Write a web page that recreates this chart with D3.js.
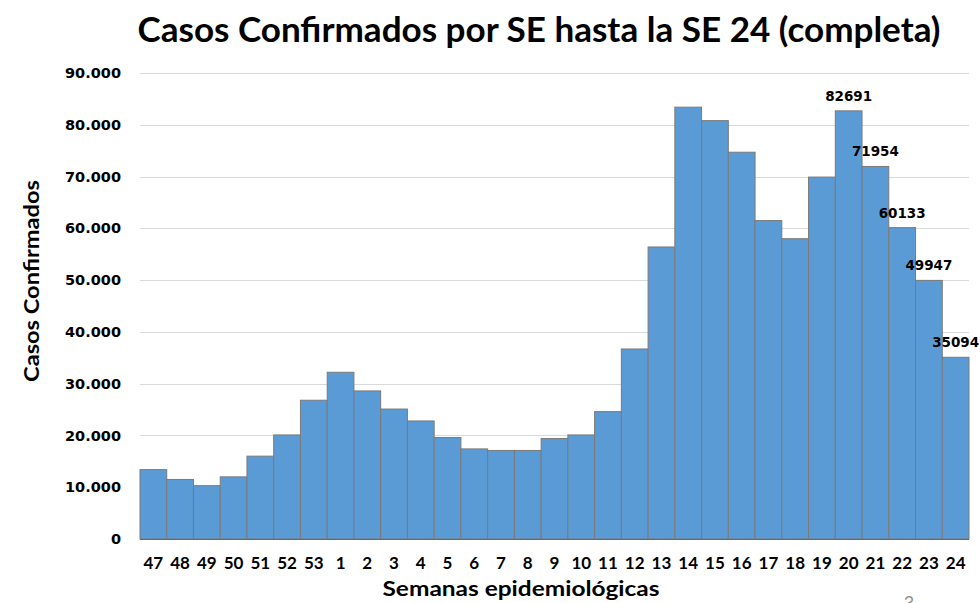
<!DOCTYPE html>
<html>
<head>
<meta charset="utf-8">
<script src="https://cdn.jsdelivr.net/npm/d3@7/dist/d3.min.js"></script>
<style>
  html, body { margin: 0; padding: 0; background: #fff; }
  svg { display: block; }
</style>
</head>
<body>
<svg id="chart" width="980" height="603"></svg>
<script>
const weeks = ["47","48","49","50","51","52","53","1","2","3","4","5","6","7","8","9","10","11","12","13","14","15","16","17","18","19","20","21","22","23","24"];
const cases = [13400,11500,10300,12000,16000,20100,26800,32200,28600,25100,22800,19600,17400,17100,17100,19400,20100,24600,36700,56400,83400,80800,74700,61500,58000,69900,82691,71954,60133,49947,35094];
const labeledWeeks = ["20","21","22","23","24"];
const yTicks = [0,10000,20000,30000,40000,50000,60000,70000,80000,90000];
const titleText = "Casos Confirmados por SE hasta la SE 24 (completa)";
const yTitle = "Casos Confirmados";
const xTitle = "Semanas epidemiológicas";

(function () {
const svg = d3.select("#chart");
const mLeft = 140, mRight = 969, mTop = 73, mBottom = 539;

const x = d3.scaleBand().domain(weeks).range([mLeft, mRight]).paddingInner(0).paddingOuter(0);
const y = d3.scaleLinear().domain([0, 90000]).range([mBottom, mTop]);

const loc = d3.formatLocale({decimal: ",", thousands: ".", grouping: [3], currency: ["", ""]});
const fmt = loc.format(",");

// gridlines
svg.append("g").selectAll("line").data(yTicks.filter(d => d > 0)).join("line")
  .attr("x1", mLeft).attr("x2", mRight)
  .attr("y1", d => Math.round(y(d)) + 0.5).attr("y2", d => Math.round(y(d)) + 0.5)
  .attr("stroke", "#d9d9d9").attr("stroke-width", 1);

// y axis labels
const yAxis = d3.axisLeft(y).tickValues(yTicks).tickFormat(fmt).tickSize(0).tickPadding(19);
const gy = svg.append("g").attr("transform", `translate(${mLeft},0)`).call(yAxis);
gy.select(".domain").remove();
gy.selectAll("text").attr("font-family", "DejaVu Sans").attr("font-weight", "bold")
  .attr("font-size", "14.5px").attr("fill", "#000");

// bars
svg.append("g").selectAll("rect").data(weeks).join("rect")
  .attr("x", d => x(d))
  .attr("y", (d, i) => y(cases[i]))
  .attr("width", x.bandwidth())
  .attr("height", (d, i) => y(0) - y(cases[i]))
  .attr("fill", "#5b9bd5")
  .attr("stroke", "#7a7a7a").attr("stroke-width", 1);

// baseline
svg.append("line").attr("x1", mLeft).attr("x2", mRight)
  .attr("y1", mBottom + 0.5).attr("y2", mBottom + 0.5)
  .attr("stroke", "#5a6a80").attr("stroke-width", 1.2);

// x axis labels
const xAxis = d3.axisBottom(x).tickSize(0).tickPadding(18);
const gx = svg.append("g").attr("transform", `translate(0,${mBottom})`).call(xAxis);
gx.select(".domain").remove();
gx.selectAll("text").attr("font-family", "Lato").attr("font-weight", "bold")
  .attr("font-size", "17px").attr("fill", "#000");

// data labels
svg.append("g").selectAll("text").data(weeks.map((w, i) => ({w, v: cases[i]})).filter(d => labeledWeeks.includes(d.w)))
  .join("text")
  .attr("x", d => x(d.w) + x.bandwidth() / 2)
  .attr("y", d => y(d.v) - 10)
  .attr("text-anchor", "middle")
  .attr("font-family", "DejaVu Sans").attr("font-weight", "bold").attr("font-size", "13.5px")
  .attr("fill", "#000")
  .text(d => d.v);

// title
svg.append("text").attr("x", 539).attr("y", 42).attr("text-anchor", "middle")
  .attr("font-family", "Lato").attr("font-weight", "bold").attr("font-size", "35px")
  .attr("textLength", 803).attr("lengthAdjust", "spacingAndGlyphs")
  .attr("fill", "#000").text(titleText);

// y title
svg.append("text").attr("transform", "translate(39,281) rotate(-90)").attr("text-anchor", "middle")
  .attr("font-family", "Lato").attr("font-weight", "bold").attr("font-size", "21px")
  .attr("textLength", 202).attr("lengthAdjust", "spacingAndGlyphs")
  .attr("fill", "#000").text(yTitle);

// x title
svg.append("text").attr("x", 521).attr("y", 596).attr("text-anchor", "middle")
  .attr("font-family", "Lato").attr("font-weight", "bold").attr("font-size", "21px")
  .attr("textLength", 277).attr("lengthAdjust", "spacingAndGlyphs")
  .attr("fill", "#000").text(xTitle);

// slide page number
svg.append("text").attr("x", 909).attr("y", 609).attr("text-anchor", "middle")
  .attr("font-family", "Lato").attr("font-size", "18px").attr("fill", "#8c8c8c").text("3");
})();
</script>
</body>
</html>
